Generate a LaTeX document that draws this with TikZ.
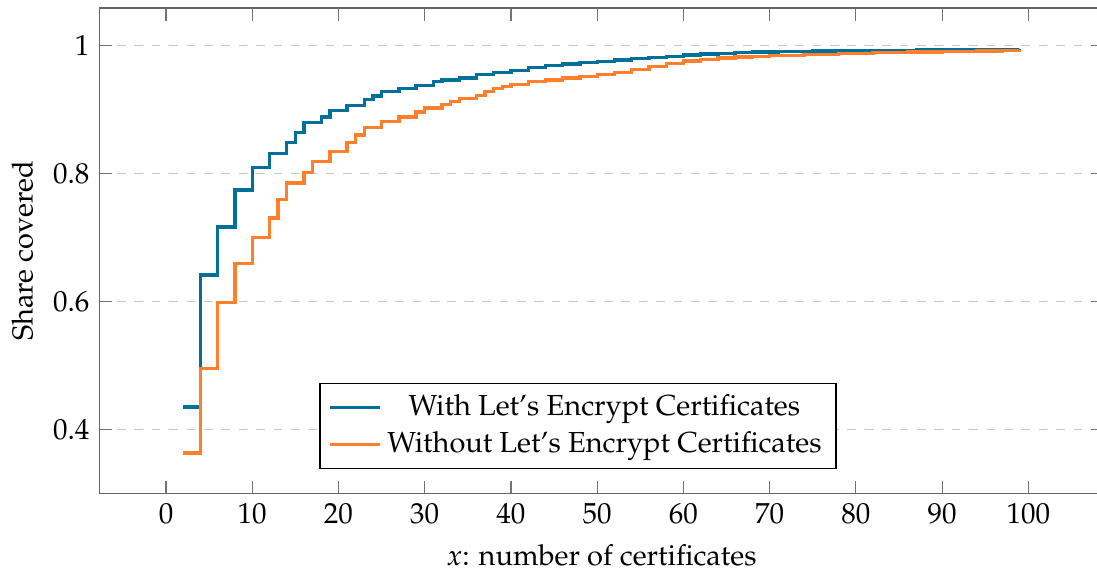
\documentclass[tikz,border=0pt]{standalone}
\usepackage[T1]{fontenc}
\usepackage{mathpazo}
\usepackage{pgfplots}
\pgfplotsset{compat=1.18}
\definecolor{cblue}{RGB}{0,112,155}
\definecolor{corange}{RGB}{255,127,42}
\begin{document}
\begin{tikzpicture}
\begin{axis}[
  scale only axis,
  width=346.3pt, height=167.4pt,
  xmin=-7.7, xmax=108.7, ymin=0.2998, ymax=1.0579,
  xtick={0,10,...,100},
  ytick={0.4,0.6,0.8,1},
  yticklabels={0.4,0.6,0.8,1},
  ymajorgrids,
  grid style={dashed, black!22},
  axis line style={black!60, line width=0.6pt},
  major tick style={black!55, line width=0.4pt},
  xlabel={$x$: number of certificates},
  ylabel={Share covered},
  legend cell align=center,
  legend style={at={(axis cs:47.78,0.4052)}, anchor=center, draw=black, fill=white, line width=0.4pt},
  every axis plot/.append style={line width=1.15pt},
  clip=false,
]
\addplot[const plot, cblue] coordinates {
(2,.435)(4,.641)(6,.716)(8,.774)(10,.809)(12,.831)(14,.848)(15,.864)(16,.879)(18,.888)(19,.898)(21,.906)(23,.915)(24,.921)(25,.928)(27,.933)(29,.9375)(31,.943)(32,.946)(34,.949)(36,.954)(38,.957)(40,.961)(42,.965)(44,.968)(46,.971)(48,.973)(50,.975)(52,.977)(54,.979)(56,.981)(58,.983)(60,.985)(62,.9865)(64,.9875)(66,.9885)(68,.9895)(71,.9905)(75,.9912)(79,.9918)(83,.9923)(87,.9928)(91,.9933)(95,.9938)(99,.9944)};
\addlegendentry{With Let's Encrypt Certificates}
\addplot[const plot, corange] coordinates {
(2,.363)(4,.495)(6,.598)(8,.659)(10,.700)(12,.730)(13,.759)(14,.785)(16,.801)(17,.818)(19,.834)(21,.848)(22,.860)(23,.872)(25,.881)(27,.888)(29,.896)(30,.902)(32,.907)(33,.912)(34,.917)(36,.922)(37,.9275)(38,.932)(39,.936)(40,.939)(42,.943)(44,.946)(46,.949)(48,.951)(50,.954)(52,.958)(54,.962)(56,.967)(58,.972)(60,.9755)(62,.978)(64,.980)(66,.9815)(68,.983)(70,.9845)(74,.986)(78,.9875)(82,.9885)(86,.9895)(90,.990)(94,.991)(97,.9915)(99,.992)};
\addlegendentry{Without Let's Encrypt Certificates}
\coordinate (bbsw) at (axis cs:-19.25,0.1786);
\coordinate (bbne) at (axis cs:107.96,1.0708);
\end{axis}
\pgfresetboundingbox
\path[use as bounding box] (bbsw) rectangle (bbne);
\end{tikzpicture}
\end{document}
